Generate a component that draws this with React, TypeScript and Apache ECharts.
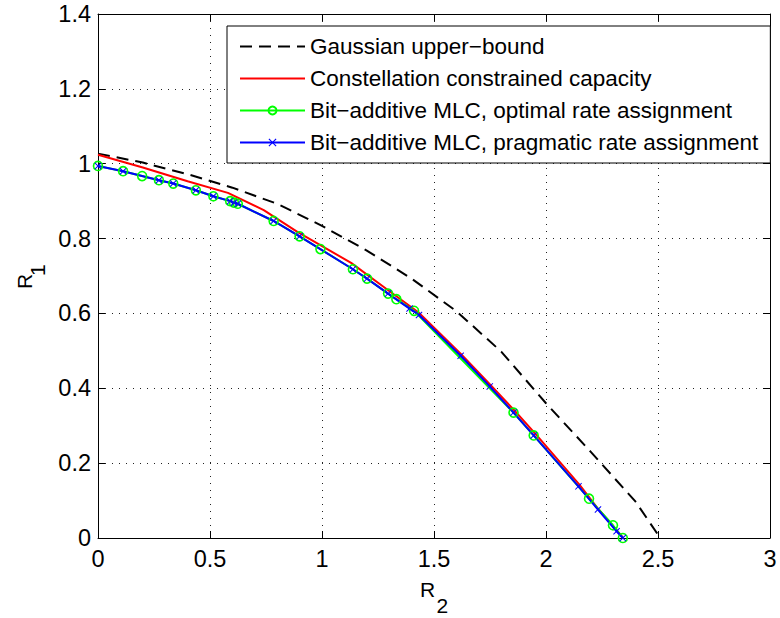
import React, { useEffect, useRef } from "react";
import * as echarts from "echarts";

const FONT = "'Liberation Sans', Arial, Helvetica, sans-serif";

const seriesNames = [
  "Gaussian upper\u2212bound",
  "Constellation constrained capacity",
  "Bit\u2212additive MLC, optimal rate assignment",
  "Bit\u2212additive MLC, pragmatic rate assignment",
];

const gaussR2 = [0, 0.2, 0.4, 0.6, 0.8, 1.0, 1.2, 1.4, 1.6, 1.8, 2.0, 2.2, 2.4, 2.51];
const gaussR1 = [1.027, 1.003, 0.972, 0.936, 0.893, 0.834, 0.768, 0.693, 0.606, 0.498, 0.36, 0.23, 0.097, 0];

const capR2 = [0, 0.2, 0.4, 0.58, 0.74, 0.89, 1.13, 1.3, 1.43, 1.62, 1.75, 1.86, 1.95, 2.15, 2.23, 2.345];
const capR1 = [1.024, 0.99, 0.953, 0.922, 0.876, 0.818, 0.735, 0.66, 0.603, 0.492, 0.41, 0.34, 0.28, 0.142, 0.08, 0];

const optR2 = [0, 0.112, 0.197, 0.272, 0.336, 0.437, 0.515, 0.59, 0.607, 0.624, 0.784, 0.9, 0.993, 1.138, 1.201, 1.295, 1.332, 1.411, 1.855, 1.945, 2.192, 2.299, 2.343];
const optR1 = [0.994, 0.98, 0.967, 0.956, 0.947, 0.929, 0.913, 0.9, 0.896, 0.893, 0.847, 0.806, 0.772, 0.718, 0.693, 0.653, 0.638, 0.607, 0.335, 0.274, 0.105, 0.034, 0];

const pragR2 = [0, 0.112, 0.272, 0.336, 0.437, 0.515, 0.59, 0.607, 0.624, 0.784, 0.9, 1.138, 1.201, 1.295, 1.391, 1.433, 1.619, 1.749, 1.855, 1.945, 2.145, 2.232, 2.315, 2.343];
const pragR1 = [0.994, 0.98, 0.956, 0.947, 0.929, 0.913, 0.9, 0.896, 0.893, 0.847, 0.806, 0.718, 0.693, 0.653, 0.613, 0.596, 0.487, 0.405, 0.335, 0.274, 0.138, 0.076, 0.018, 0];

const xMin = 0, xMax = 3, xStep = 0.5;
const yMin = 0, yMax = 1.4, yStep = 0.2;

const pairs = (xs: number[], ys: number[]) => xs.map((x, i) => [x, ys[i]]);

const CROSS = "path://M0,1L1,0L5,4L9,0L10,1L6,5L10,9L9,10L5,6L1,10L0,9L4,5Z";
const CLEAR = "rgba(0,0,0,0)";

export default function App() {
  const ref = useRef<HTMLDivElement>(null);
  useEffect(() => {
    if (!ref.current) return;
    const chart = echarts.init(ref.current, undefined, { renderer: "svg" });
    const axisCommon = {
      type: "value" as const,
      axisLine: { show: true, onZero: false, lineStyle: { color: "#000", width: 1 } },
      axisTick: { show: true, inside: true, length: 7, lineStyle: { color: "#000" } },
    };
    const gridLine = { show: true, lineStyle: { color: "#222", type: [1, 6], width: 1 } };
    const tickFont = { show: true, color: "#000", fontSize: 23.5, fontFamily: FONT };
    const option: any = {
      animation: false,
      backgroundColor: "#fff",
      textStyle: { fontFamily: FONT },
      grid: { left: 98, right: 10, top: 14, bottom: 80, containLabel: false },
      xAxis: [
        {
          ...axisCommon,
          position: "bottom",
          min: xMin, max: xMax, interval: xStep,
          axisLabel: { ...tickFont, margin: 9 },
          splitLine: gridLine,
        },
        {
          ...axisCommon,
          position: "top",
          min: xMin, max: xMax, interval: xStep,
          axisLabel: { show: false },
          splitLine: { show: false },
        },
      ],
      yAxis: [
        {
          ...axisCommon,
          position: "left",
          min: yMin, max: yMax, interval: yStep,
          axisLabel: { ...tickFont, margin: 7 },
          splitLine: gridLine,
        },
        {
          ...axisCommon,
          position: "right",
          min: yMin, max: yMax, interval: yStep,
          axisLabel: { show: false },
          splitLine: { show: false },
        },
      ],
      legend: {
        show: true,
        orient: "vertical",
        left: 227,
        top: 26,
        backgroundColor: "#fff",
        borderColor: "#000",
        borderWidth: 1,
        borderRadius: 0,
        padding: [9, 12, 9, 12],
        itemGap: 9,
        itemWidth: 65,
        itemHeight: 10,
        textStyle: { color: "#000", fontSize: 22.5, fontFamily: FONT, lineHeight: 22 },
        data: seriesNames,
      },
      series: [
        {
          name: seriesNames[0],
          type: "line",
          data: pairs(gaussR2, gaussR1),
          showSymbol: false,
          symbol: "none",
          lineStyle: { color: "#000", width: 2, type: [12, 7] },
          itemStyle: { color: CLEAR },
        },
        {
          name: seriesNames[1],
          type: "line",
          data: pairs(capR2, capR1),
          showSymbol: false,
          symbol: "none",
          lineStyle: { color: "#ff0000", width: 2 },
          itemStyle: { color: CLEAR },
        },
        {
          name: seriesNames[2],
          type: "line",
          data: pairs(optR2, optR1),
          symbol: "circle",
          symbolSize: 9,
          showAllSymbol: true,
          lineStyle: { color: "#00ff00", width: 2 },
          itemStyle: { color: CLEAR, borderColor: "#00ff00", borderWidth: 1.6 },
        },
        {
          name: seriesNames[3],
          type: "line",
          data: pairs(pragR2, pragR1),
          symbol: CROSS,
          symbolSize: 7,
          showAllSymbol: true,
          lineStyle: { color: "#0000ff", width: 2 },
          itemStyle: { color: "#0000ff" },
        },
      ],
      graphic: [
        {
          type: "text",
          x: 420,
          y: 589.5,
          style: { text: "R", fontSize: 21, fontFamily: FONT, fill: "#000", verticalAlign: "middle", align: "left" },
        },
        {
          type: "text",
          x: 436.5,
          y: 605,
          style: { text: "2", fontSize: 21, fontFamily: FONT, fill: "#000", verticalAlign: "middle", align: "left" },
        },
        {
          type: "group",
          x: 31.7,
          y: 289,
          rotation: Math.PI / 2,
          children: [
            { type: "text", x: 0, y: -7.5, style: { text: "R", fontSize: 21, fontFamily: FONT, fill: "#000", verticalAlign: "middle", align: "left" } },
            { type: "text", x: 13, y: 5.8, style: { text: "1", fontSize: 21, fontFamily: FONT, fill: "#000", verticalAlign: "middle", align: "left" } },
          ],
        },
      ],
    };
    chart.setOption(option);
    return () => chart.dispose();
  }, []);
  return (
    <div
      ref={ref}
      style={{ position: "fixed", left: 0, top: 0, width: 780, height: 618, background: "#fff" }}
    />
  );
}
